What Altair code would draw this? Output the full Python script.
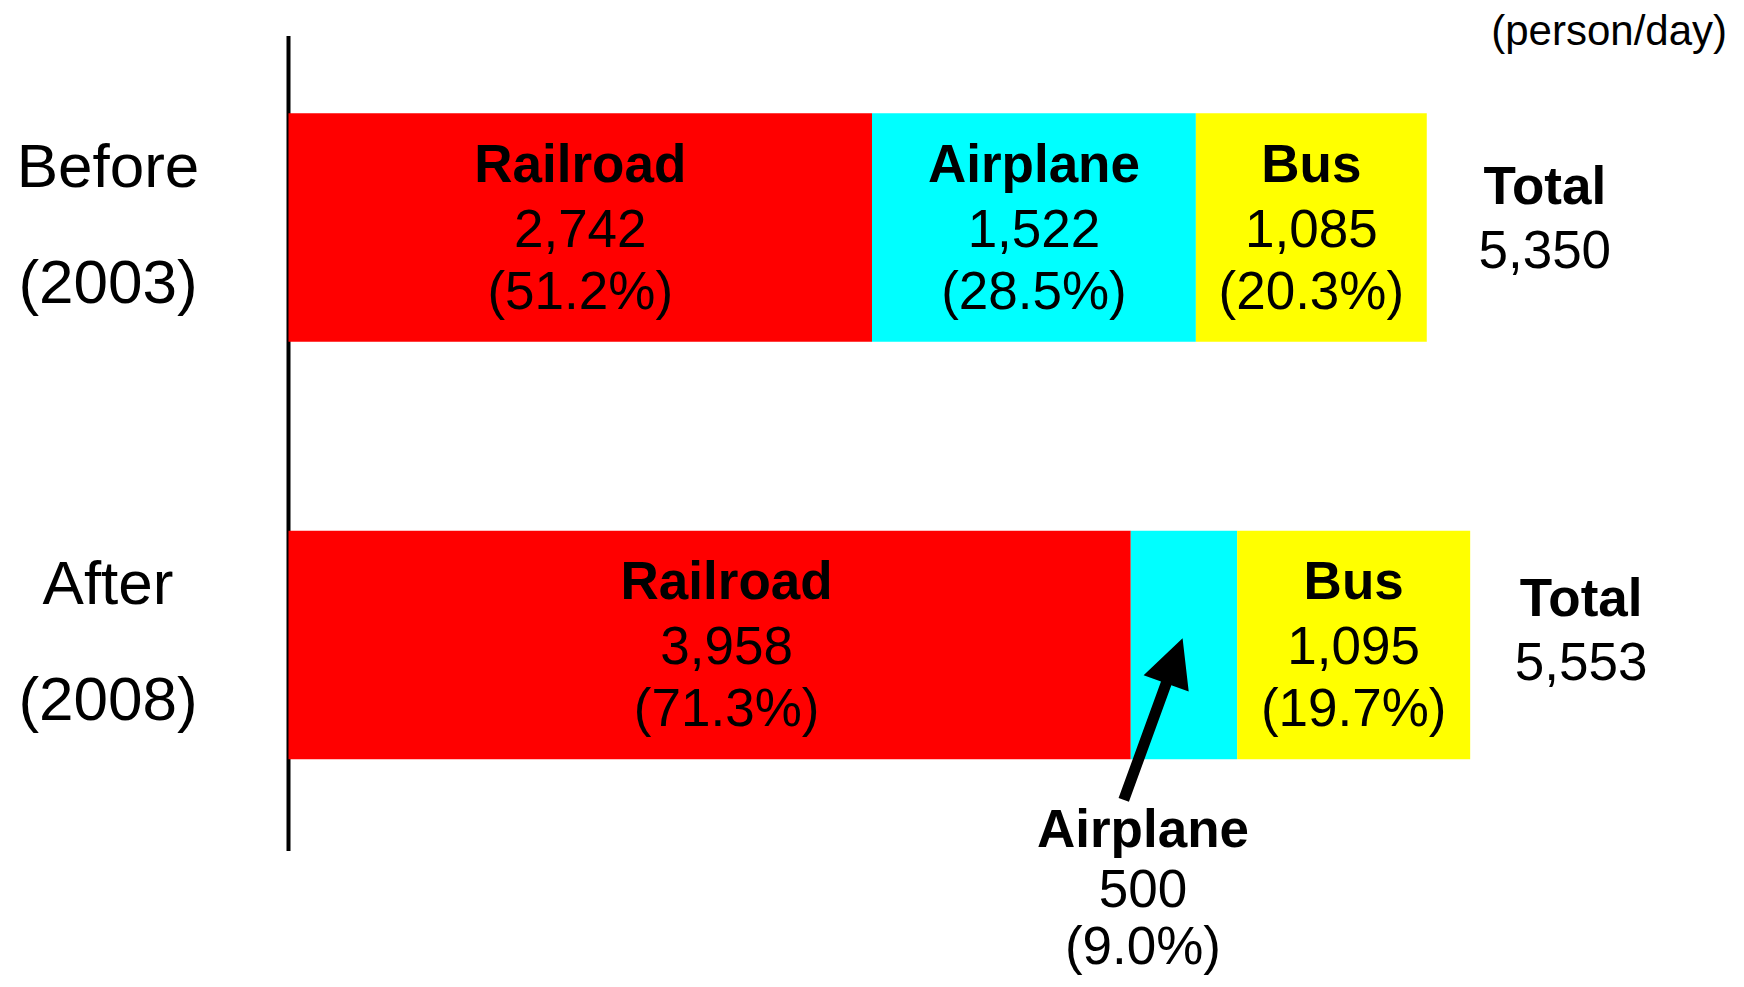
import altair as alt
import pandas as pd

# ---------------- data ----------------
rows = ["Before", "After"]
years = ["(2003)", "(2008)"]
modes = ["Railroad", "Airplane", "Bus"]
before_values = [2742, 1522, 1085]
after_values = [3958, 500, 1095]
before_shares = [51.2, 28.5, 20.3]
after_shares = [71.3, 9.0, 19.7]
totals = [5350, 5553]
mode_colors = ["#FF0000", "#00FFFF", "#FFFF00"]
unit_note = "(person/day)"
callout_row, callout_mode = "After", "Airplane"

# ---------------- tables ----------------
recs = []
for row, vals, shares in zip(rows, [before_values, after_values], [before_shares, after_shares]):
    start = 0
    for m, v, s in zip(modes, vals, shares):
        recs.append(dict(row=row, mode=m, value=v, value_str=f"{v:,}",
                         share=f"({s:.1f}%)", start=start, end=start + v,
                         mid=start + v / 2,
                         callout=(row == callout_row and m == callout_mode)))
        start += v
seg = pd.DataFrame(recs)
inside = seg[~seg["callout"]]
outside = seg[seg["callout"]]
tot = pd.DataFrame(dict(row=rows, year=years, total=totals,
                        total_str=[f"{t:,}" for t in totals],
                        end=[sum(before_values), sum(after_values)],
                        title=["Total"] * len(rows)))

# ---------------- scales ----------------
FONT = "Liberation Sans"
PX_PER_UNIT = 0.2128
X0 = 280.5
W, H = 1728, 971
XMIN = -X0 / PX_PER_UNIT
XMAX = XMIN + W / PX_PER_UNIT
X_SCALE = alt.Scale(domain=[XMIN, XMAX], nice=False, zero=False)
# band layout: centres at y=219.5 and y=637, bar height ~228.5
STEP, BW, C0 = 417.5, 228.5, 219.5
P_IN = 1 - BW / STEP
P_OUT = (H / STEP - 2 + P_IN) / 2
ALIGN = (C0 - BW / 2) / (2 * P_OUT * STEP)
Y = alt.Y("row:N", sort=rows, axis=None,
          scale=alt.Scale(paddingInner=P_IN, paddingOuter=P_OUT, align=ALIGN))


def xenc(field):
    return alt.X(f"{field}:Q", scale=X_SCALE, axis=None)


def text_layer(df, xfield, tfield, dy, bold=False, dx=0, size=53, align="center"):
    return alt.Chart(df).mark_text(
        font=FONT, fontSize=size, fontWeight="bold" if bold else "normal",
        baseline="alphabetic", align=align, dx=dx, dy=dy, color="black"
    ).encode(x=xenc(xfield), y=Y, text=f"{tfield}:N")


axis_rule = alt.Chart(pd.DataFrame({"zero": [0]})).mark_rule(
    color="black", strokeWidth=4
).encode(x=xenc("zero"), y=alt.value(28), y2=alt.value(843))

bars = alt.Chart(seg).mark_bar().encode(
    x=xenc("start"), x2="end:Q", y=Y,
    color=alt.Color("mode:N", scale=alt.Scale(domain=modes, range=mode_colors), legend=None),
)

# in-bar labels (the wide After/Railroad label sits a little right of centre)
shifted = (inside["row"] == "After") & (inside["mode"] == "Railroad")
inner = []
for df, dx in [(inside[~shifted], 0), (inside[shifted], 17)]:
    inner += [
        text_layer(df, "mid", "mode", -46, bold=True, dx=dx),
        text_layer(df, "mid", "value_str", 19, dx=dx),
        text_layer(df, "mid", "share", 81, dx=dx),
    ]

callout_txt = [
    text_layer(outside, "mid", "mode", 202, bold=True, dx=-41),
    text_layer(outside, "mid", "value_str", 262, dx=-41),
    text_layer(outside, "mid", "share", 319, dx=-41),
]

ARROW = "M0,-1L0.279,-0.442L0.064,-0.442L0.064,1L-0.064,1L-0.064,-0.442L-0.279,-0.442Z"
arrow = alt.Chart(outside).mark_point(
    shape=ARROW, size=29584, angle=20, filled=True, color="black",
    opacity=1, strokeWidth=0, xOffset=-30.8, yOffset=74.1
).encode(x=xenc("mid"), y=Y)


def total_layers(row, dx, dy1, dy2):
    d = tot[tot["row"] == row]
    return [
        text_layer(d, "end", "title", dy1, bold=True, dx=dx),
        text_layer(d, "end", "total_str", dy2, dx=dx),
    ]


totals_l = total_layers("Before", 118, -23.5, 40.5) + total_layers("After", 111, -29, 35)

left = [
    alt.Chart(tot).mark_text(font=FONT, fontSize=62, baseline="alphabetic", align="center",
                             dy=-41, color="black").encode(x=alt.value(100), y=Y, text="row:N"),
    alt.Chart(tot).mark_text(font=FONT, fontSize=62, baseline="alphabetic", align="center",
                             dy=75, color="black").encode(x=alt.value(100), y=Y, text="year:N"),
]

note = alt.Chart(pd.DataFrame({"note": [unit_note]})).mark_text(
    font=FONT, fontSize=42, baseline="alphabetic", align="right", color="black"
).encode(x=alt.value(1719), y=alt.value(37), text="note:N")

chart = alt.layer(axis_rule, bars, *inner, *callout_txt, arrow, *totals_l, *left, note).properties(
    width=W, height=H, autosize=alt.AutoSizeParams(type="none"), padding=0,
    background="white",
).configure_view(stroke=None)

chart.save("out.html", embed_options={"renderer": "svg", "actions": False})
